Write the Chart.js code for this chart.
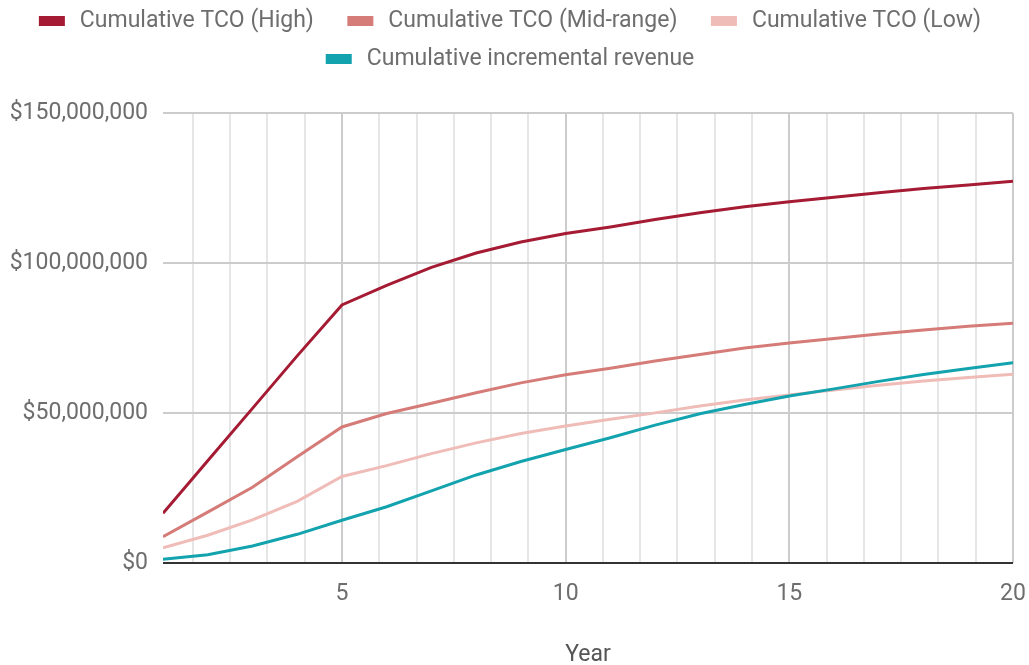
<!DOCTYPE html>
<html>
<head>
<meta charset="utf-8">
<script src="https://cdn.jsdelivr.net/npm/chart.js@4.4.1/dist/chart.umd.min.js"></script>
<style>
  html, body { margin: 0; padding: 0; background: #ffffff; }
  #wrap { width: 1029px; height: 665px; position: relative; }
</style>
</head>
<body>
<div id="wrap"><canvas id="c"></canvas></div>
<script>
// Years on the horizontal axis
const years = [1, 2, 3, 4, 5, 6, 7, 8, 9, 10, 11, 12, 13, 14, 15, 16, 17, 18, 19, 20];

// Cumulative totals in US dollars
const tcoHigh = [16500000, 34000000, 51500000, 69000000, 86000000, 92500000, 98500000, 103300000, 107000000, 109800000,
                 112000000, 114500000, 116700000, 118700000, 120400000, 121900000, 123400000, 124800000, 126000000, 127200000];
const tcoMid = [8700000, 16900000, 25200000, 35400000, 45300000, 49800000, 53200000, 56700000, 60000000, 62700000,
                64900000, 67300000, 69500000, 71600000, 73300000, 74800000, 76300000, 77600000, 78900000, 79900000];
const tcoLow = [5000000, 9200000, 14300000, 20500000, 28800000, 32400000, 36400000, 40000000, 43100000, 45600000,
                47900000, 50000000, 52300000, 54300000, 56000000, 57600000, 59200000, 60600000, 61800000, 62900000];
const revenue = [1200000, 2700000, 5600000, 9500000, 14200000, 18700000, 24000000, 29300000, 33800000, 37800000,
                 41700000, 45900000, 49700000, 52800000, 55600000, 58000000, 60500000, 62800000, 64800000, 66700000];

const seriesNames = ['Cumulative TCO (High)', 'Cumulative TCO (Mid-range)', 'Cumulative TCO (Low)', 'Cumulative incremental revenue'];
const seriesColors = ['#a51b34', '#d57b78', '#efbcb8', '#12a3ae'];

// Axis settings
const yTicks = [0, 50000000, 100000000, 150000000];
const xLabelStep = 5;        // labelled years
const xMinorPerMajor = 6;    // minor gridlines per labelled interval
const axisTitle = 'Year';

const FONT = 'Roboto, "Open Sans", "DejaVu Sans", sans-serif';
const FONT_SIZE = 23;
const TEXT = '#6e6e6e';

const toPoints = arr => arr.map((v, i) => ({ x: years[i], y: v }));
const allSeries = [tcoHigh, tcoMid, tcoLow, revenue];

const datasets = allSeries.map((arr, i) => ({
  label: seriesNames[i],
  data: toPoints(arr),
  borderColor: seriesColors[i],
  backgroundColor: seriesColors[i],
  borderWidth: 3,
  pointRadius: 0,
  pointHoverRadius: 0,
  tension: 0,
  fill: false,
  order: allSeries.length - 1 - i   // later series drawn on top
}));

const money = v => '$' + Math.round(v).toLocaleString('en-US');
const isMajor = v => Math.abs(v / xLabelStep - Math.round(v / xLabelStep)) < 1e-6;

// Centered, wrapping legend above the plot: swatch, label, wide gaps between entries
const topLegend = {
  id: 'topLegend',
  afterDraw(chart, args, opts) {
    const ctx = chart.ctx;
    ctx.save();
    ctx.font = FONT_SIZE + 'px ' + FONT;
    ctx.textBaseline = 'middle';
    ctx.textAlign = 'left';
    const items = chart.data.datasets.map(ds => ({
      text: ds.label,
      color: ds.borderColor,
      w: opts.boxWidth + opts.boxGap + ctx.measureText(ds.label).width
    }));
    const rows = [[]];
    let rowW = 0;
    items.forEach(it => {
      const add = (rows[rows.length - 1].length ? opts.itemGap : 0) + it.w;
      if (rows[rows.length - 1].length && rowW + add > opts.maxWidth) {
        rows.push([it]);
        rowW = it.w;
      } else {
        rows[rows.length - 1].push(it);
        rowW += add;
      }
    });
    rows.forEach((row, r) => {
      const total = row.reduce((s, it) => s + it.w, 0) + opts.itemGap * (row.length - 1);
      let x = opts.centerX - total / 2;
      const y = opts.firstRowY + r * opts.rowHeight;
      row.forEach(it => {
        ctx.fillStyle = it.color;
        ctx.fillRect(x, y - opts.boxHeight / 2, opts.boxWidth, opts.boxHeight);
        ctx.fillStyle = TEXT;
        ctx.fillText(it.text, x + opts.boxWidth + opts.boxGap, y);
        x += it.w + opts.itemGap;
      });
    });
    ctx.restore();
  }
};

new Chart(document.getElementById('c'), {
  type: 'line',
  data: { datasets },
  plugins: [topLegend],
  options: {
    responsive: true,
    maintainAspectRatio: false,
    animation: false,
    layout: { padding: { top: 113, right: 0, bottom: 0, left: 0 } },
    plugins: {
      tooltip: { enabled: false },
      legend: { display: false },
      topLegend: {
        centerX: 510, firstRowY: 21, rowHeight: 38,
        boxWidth: 26, boxHeight: 10, boxGap: 15, itemGap: 33.5, maxWidth: 990
      }
    },
    scales: {
      x: {
        type: 'linear',
        min: years[0],
        max: years[years.length - 1],
        afterBuildTicks(scale) {
          const step = xLabelStep / xMinorPerMajor;
          const ticks = [];
          for (let k = 1; k * step <= scale.max + 1e-9; k++) {
            const v = Math.round(k * step * 1e6) / 1e6;
            if (v > scale.min + 1e-9) ticks.push({ value: v });
          }
          scale.ticks = ticks;
        },
        afterFit(scale) { scale.paddingRight = 16; },
        ticks: {
          autoSkip: false,
          maxRotation: 0,
          padding: 18,
          color: TEXT,
          font: { family: FONT, size: FONT_SIZE },
          callback: v => isMajor(v) ? String(Math.round(v)) : ''
        },
        grid: {
          drawTicks: false,
          color: ctx => (ctx.tick && isMajor(ctx.tick.value)) ? '#cccccc' : '#e6e6e6',
          lineWidth: 2
        },
        border: { display: false },
        title: {
          display: true,
          text: axisTitle,
          color: '#555555',
          font: { family: FONT, size: FONT_SIZE },
          padding: { top: 15, bottom: -4 }
        }
      },
      y: {
        min: yTicks[0],
        max: yTicks[yTicks.length - 1],
        afterBuildTicks(scale) { scale.ticks = yTicks.map(v => ({ value: v })); },
        afterFit(scale) { scale.width = 163; },
        ticks: {
          padding: 15,
          color: TEXT,
          font: { family: FONT, size: FONT_SIZE },
          callback: v => money(v)
        },
        grid: {
          drawTicks: false,
          color: ctx => (ctx.tick && ctx.tick.value === 0) ? '#333333' : '#cccccc',
          lineWidth: 2
        },
        border: { display: false }
      }
    }
  }
});
</script>
</body>
</html>
